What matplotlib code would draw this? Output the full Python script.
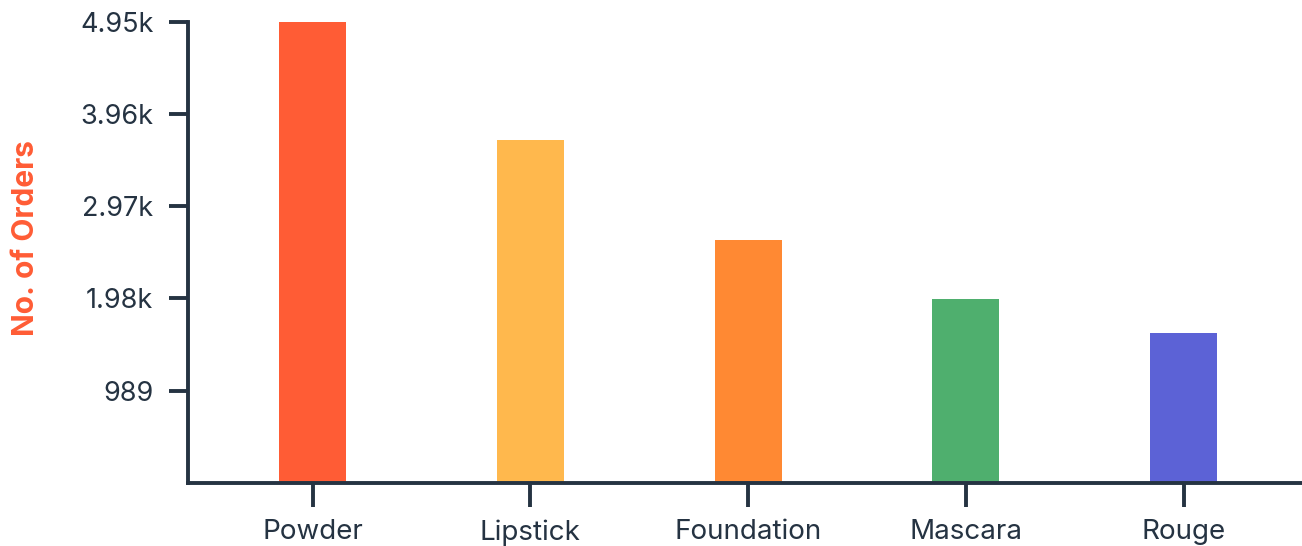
import numpy as np
import matplotlib
matplotlib.use("Agg")
import matplotlib.pyplot as plt

products = ["Powder", "Lipstick", "Foundation", "Mascara", "Rouge"]
orders = [4946, 3677, 2605, 1972, 1608]
colors = ["#FF5C35", "#FFB84D", "#FF8933", "#4FAF6E", "#5C62D6"]

axis_color = "#253342"
plt.rcParams["font.family"] = ["Inter", "DejaVu Sans"]


def fmt(v):
    if v >= 1000:
        return f"{v / 1000:.2f}k"
    return f"{v:.0f}"


W, H = 1302, 546
left_px, bottom_px, top_px = 188, 483, 21.7
fig = plt.figure(figsize=(W / 100, H / 100), dpi=100)
ax = fig.add_axes([left_px / W, (H - bottom_px) / H, (W - left_px) / W, (bottom_px - top_px) / H])

x = np.arange(len(products))
ax.bar(x, orders, width=0.308, color=colors, clip_on=False, zorder=2)

ymax = max(orders)
ticks = np.linspace(0, ymax, 6)[1:]
ax.set_ylim(0, ymax)
ax.set_xlim(-0.572, len(products) - 1 + 0.544)
ax.set_yticks(ticks)
ax.set_yticklabels([fmt(t) for t in ticks])
ax.set_xticks(x)
ax.set_xticklabels(products)

for s in ["top", "right"]:
    ax.spines[s].set_visible(False)
for s in ["left", "bottom"]:
    ax.spines[s].set_color(axis_color)
    ax.spines[s].set_linewidth(2.8)
    ax.spines[s].set_zorder(3)

ax.tick_params(axis="y", length=14, width=2.8, color=axis_color,
               labelcolor=axis_color, labelsize=19.5, pad=11)
ax.tick_params(axis="x", length=17, width=2.8, color=axis_color,
               labelcolor=axis_color, labelsize=20, pad=9)

ax.set_ylabel("No. of Orders", color="#FF5C35", fontsize=21.5, fontweight="bold")
ax.yaxis.set_label_coords((40 - left_px) / (W - left_px), (bottom_px - 238.5) / (bottom_px - top_px))

fig.savefig("out.png", dpi=100)
